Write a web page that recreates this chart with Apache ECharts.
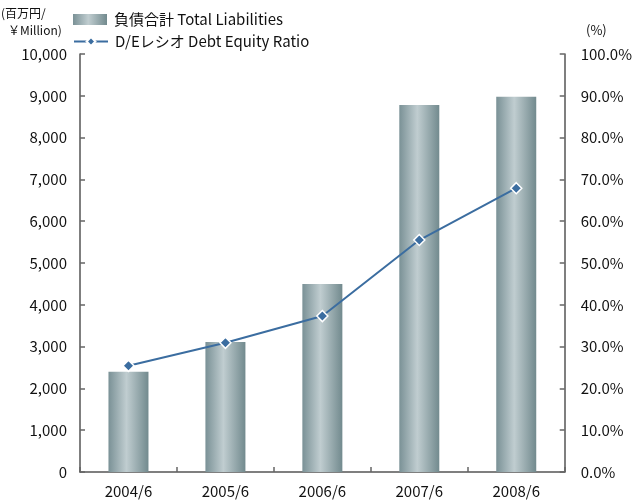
<!DOCTYPE html>
<html>
<head>
<meta charset="utf-8">
<script src="https://cdn.jsdelivr.net/npm/echarts@6/dist/echarts.min.js"></script>
<style>
  html, body { margin: 0; padding: 0; background: #fff; }
  #chart { width: 635px; height: 500px; }
</style>
</head>
<body>
<div id="chart"></div>
<script>
// data
const years = ['2004/6', '2005/6', '2006/6', '2007/6', '2008/6']
const liabilities = [2400, 3110, 4500, 8780, 8980]
const deRatio = [25.4, 30.9, 37.3, 55.5, 67.9]

const font = '"Noto Sans CJK JP", "Noto Sans", sans-serif'
const axisLine = { show: true, lineStyle: { color: '#555', width: 1.5 } }
const axisTick = { show: true, inside: true, length: 5, lineStyle: { color: '#666', width: 1.5 } }

let chart = echarts.init(document.getElementById('chart'))
chart.setOption({
  animation: false,
  textStyle: { fontFamily: font },
  grid: { left: 80, right: 69, top: 54, bottom: 28, containLabel: false },
  legend: [
    {
      left: 68, top: 7, itemWidth: 34, itemHeight: 11, itemGap: 6,
      textStyle: { fontFamily: font, fontSize: 15, color: '#111', padding: [0, 0, 0, 2] },
      data: [{ name: '負債合計 Total Liabilities', icon: 'rect' }]
    },
    {
      left: 68, top: 29, itemWidth: 34, itemHeight: 11,
      textStyle: { fontFamily: font, fontSize: 15, color: '#111', padding: [0, 0, 0, 2] },
      data: ['D/Eレシオ Debt Equity Ratio']
    }
  ],
  xAxis: {
    type: 'category',
    data: years,
    axisLine,
    axisTick,
    axisLabel: { color: '#111', fontSize: 15, margin: 12, fontFamily: font }
  },
  yAxis: [
    {
      type: 'value', min: 0, max: 10000, interval: 1000,
      axisLine, axisTick,
      splitLine: { show: false },
      axisLabel: {
        color: '#111', fontSize: 15, margin: 13,
        formatter: v => v.toLocaleString('en-US')
      }
    },
    {
      type: 'value', min: 0, max: 100, interval: 10, position: 'right',
      axisLine, axisTick,
      splitLine: { show: false },
      axisLabel: {
        color: '#111', fontSize: 15, margin: 16,
        formatter: v => v.toFixed(1) + '%'
      }
    }
  ],
  graphic: [
    { type: 'text', left: 1, top: 7, style: { text: '(百万円/', font: '12px ' + font, fill: '#111' } },
    { type: 'text', left: 8, top: 24, style: { text: '￥Million)', font: '12px ' + font, fill: '#111' } },
    { type: 'text', left: 586, top: 24, style: { text: '(%)', font: '13px ' + font, fill: '#111' } }
  ],
  series: [
    {
      name: '負債合計 Total Liabilities',
      type: 'bar',
      barWidth: 40,
      data: liabilities,
      itemStyle: {
        color: new echarts.graphic.LinearGradient(0, 0, 1, 0, [
          { offset: 0, color: '#7a9196' },
          { offset: 0.45, color: '#c0cdd0' },
          { offset: 1, color: '#728a8e' }
        ])
      }
    },
    {
      name: 'D/Eレシオ Debt Equity Ratio',
      type: 'line',
      yAxisIndex: 1,
      data: deRatio,
      symbol: 'diamond',
      symbolSize: 11,
      lineStyle: { color: '#3b6da0', width: 2 },
      itemStyle: { color: '#3b6da0', borderColor: '#fff', borderWidth: 1.5 }
    }
  ]
})
</script>
</body>
</html>
